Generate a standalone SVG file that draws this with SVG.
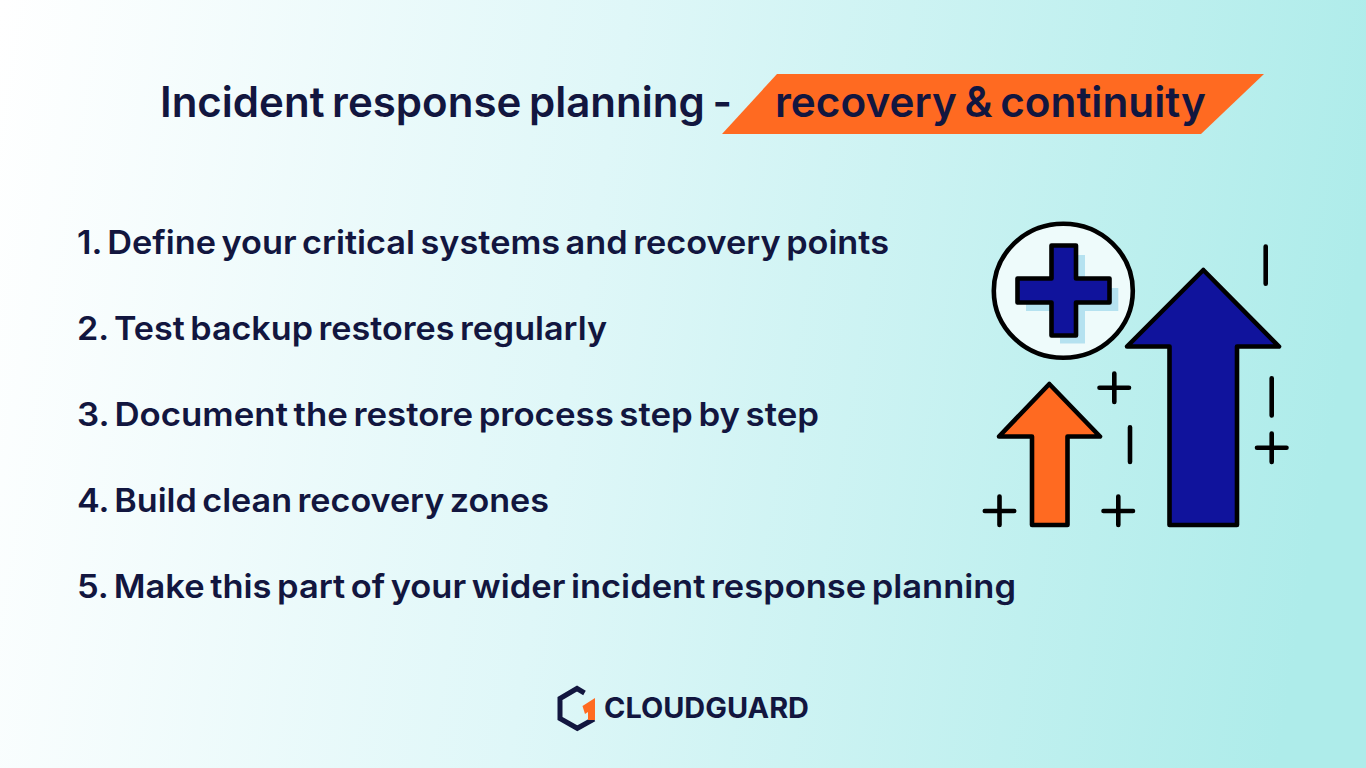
<svg xmlns="http://www.w3.org/2000/svg" width="1366" height="768" viewBox="0 0 1366 768">
<style>
text{font-family:"Inter","Noto Sans",sans-serif;fill:#12163f}
.h{font-size:42px;font-weight:600;word-spacing:-3px}
.l{font-size:33px;font-weight:600;word-spacing:-3px}
.s{stroke:#000;stroke-width:4.6;stroke-linejoin:round;stroke-linecap:round}
.m{fill:none;stroke:#000;stroke-width:4.6;stroke-linecap:round}
</style>
<defs><linearGradient id="bg" x1="0" y1="0" x2="1366" y2="220" gradientUnits="userSpaceOnUse"><stop offset="0" stop-color="#fff"/><stop offset="0.45" stop-color="#dff7f8"/><stop offset="1" stop-color="#aeecea"/></linearGradient></defs>
<rect width="1366" height="768" fill="url(#bg)"/>
<g id="title">
<text class="h" x="160" y="117" textLength="572" lengthAdjust="spacingAndGlyphs">Incident response planning -</text>
<polygon points="777,74 1264,74 1201,134 722,134" fill="#ff6a21"/>
<text class="h" x="775" y="117" textLength="431" lengthAdjust="spacingAndGlyphs">recovery &amp; continuity</text>
</g>
<g id="list">
<text class="l" x="77" y="254" textLength="812" lengthAdjust="spacingAndGlyphs">1. Define your critical systems and recovery points</text>
<text class="l" x="77" y="340" textLength="530" lengthAdjust="spacingAndGlyphs">2. Test backup restores regularly</text>
<text class="l" x="77" y="426" textLength="742" lengthAdjust="spacingAndGlyphs">3. Document the restore process step by step</text>
<text class="l" x="77" y="512" textLength="472" lengthAdjust="spacingAndGlyphs">4. Build clean recovery zones</text>
<text class="l" x="77" y="598" textLength="939" lengthAdjust="spacingAndGlyphs">5. Make this part of your wider incident response planning</text>
</g>
<g id="icon">
<ellipse cx="1063.3" cy="290.8" rx="69.5" ry="67" fill="#eefbfb" stroke="#000" stroke-width="4.6"/>
<polygon points="1060,255 1085,255 1085,288 1118.3,288 1118.3,311 1085,311 1085,343.5 1060,343.5 1060,311 1026,311 1026,288 1060,288" fill="#b5e2f0"/>
<polygon class="s" points="1051.5,245.5 1076,245.5 1076,278.5 1109.5,278.5 1109.5,302.5 1076,302.5 1076,335.5 1051.5,335.5 1051.5,302.5 1017.5,302.5 1017.5,278.5 1051.5,278.5" fill="#10139c"/>
<polygon class="s" points="1203.3,270 1279,346.5 1237,346.5 1237,525 1169.5,525 1169.5,346.5 1127,346.5" fill="#10139c"/>
<polygon class="s" points="1049.3,384 1100,436.5 1067.5,436.5 1067.5,525 1032,525 1032,436.5 999,436.5" fill="#ff6a21"/>
<path class="m" d="M1265.7 246.6V283.7M1271.7 378.3V415.4M1130 427.3V462M1114.3 373.5V402M1099.5 387.7H1129M1271.7 433.5V462M1257 447.7H1286.5M999.5 496.5V525M984.8 511H1014.2M1118.3 496.5V525M1103.5 511H1133"/>
</g>
<g id="logo">
<path d="M584.5 693 577 688.5 560 698.5V718.5L577.3 728.3 594 719" fill="none" stroke="#12163f" stroke-width="5"/>
<polygon points="582.5,706 595,698 595,720 588,720 588,712 585,714" fill="#ff6a21"/>
<text x="604" y="718" font-size="28" font-weight="700" textLength="205" lengthAdjust="spacingAndGlyphs">CLOUDGUARD</text>
</g>
</svg>
